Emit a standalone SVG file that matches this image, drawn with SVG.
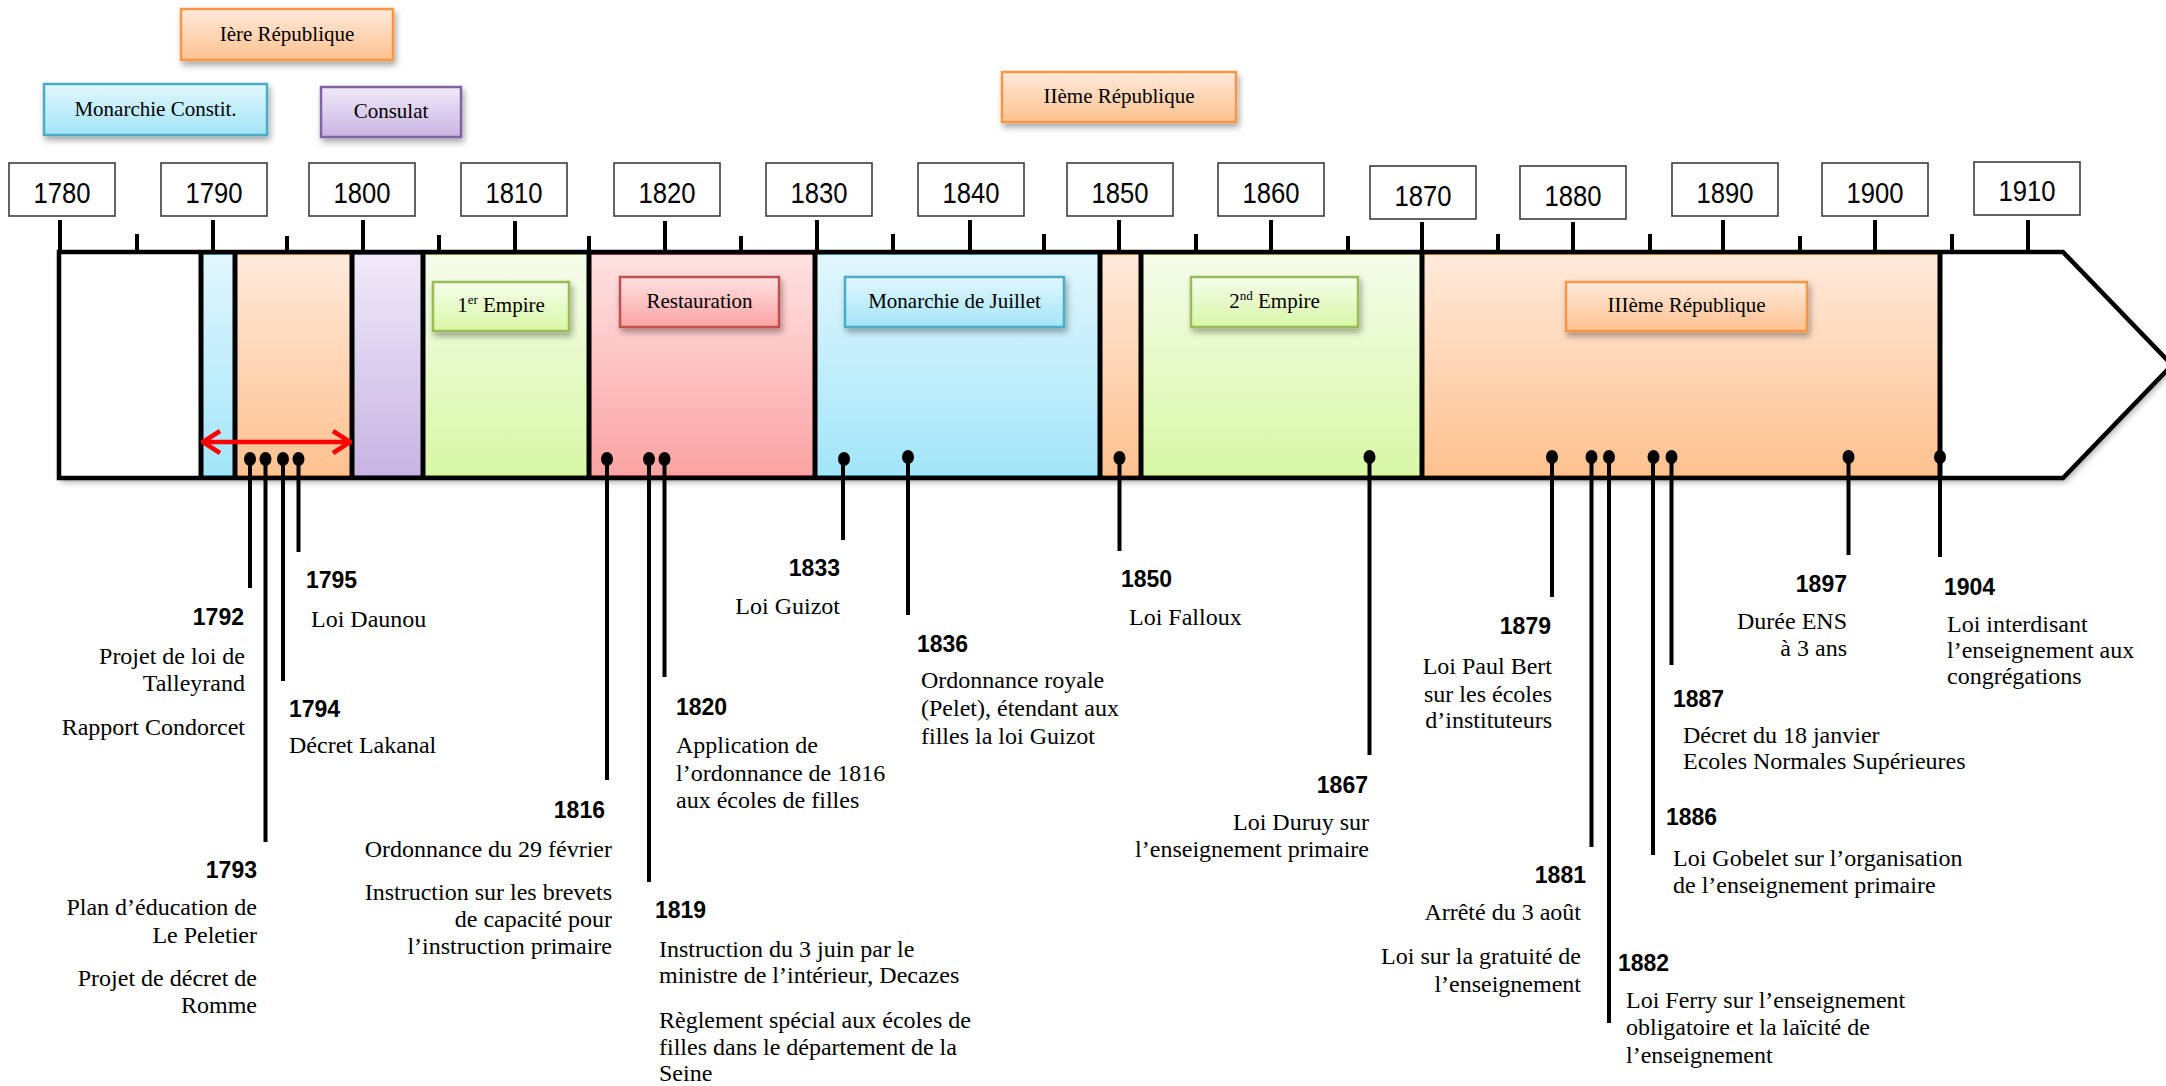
<svg xmlns="http://www.w3.org/2000/svg" width="2166" height="1086" viewBox="0 0 2166 1086">
<defs>
<style>
.yb{fill:#fff;stroke:#3c3c3c;stroke-width:1.6}
.yt{font-family:"Liberation Sans",Arial,sans-serif;font-size:29px;fill:#000;text-anchor:middle}
.pt{font-family:"Liberation Serif","Times New Roman",serif;font-size:21px;fill:#000;text-anchor:middle}
.ev{font-family:"Liberation Serif","Times New Roman",serif;font-size:24px;fill:#000}
.yr{font-family:"Liberation Sans",Arial,sans-serif;font-size:23px;font-weight:bold;fill:#000}
.r{text-anchor:end}
.tick{stroke:#000;stroke-width:4}
.div{stroke:#000;stroke-width:5}
.evl{stroke:#000;stroke-width:4}
.dot{fill:#000}
.box{filter:url(#sh);stroke-width:2.5}
.or{fill:url(#gOr);stroke:#F79646}
.bl{fill:url(#gBl);stroke:#4BACC6}
.pu{fill:url(#gPu);stroke:#8064A2}
.gr{fill:url(#gGr);stroke:#9BBB59}
.rd{fill:url(#gRd);stroke:#C0504D}
.sec{stroke-width:2}
</style>
<linearGradient id="gOr" x1="0" y1="0" x2="0" y2="1"><stop offset="0" stop-color="#FFEADB"/><stop offset="1" stop-color="#FDC18F"/></linearGradient>
<linearGradient id="gBl" x1="0" y1="0" x2="0" y2="1"><stop offset="0" stop-color="#E2F7FD"/><stop offset="1" stop-color="#A3E5F9"/></linearGradient>
<linearGradient id="gPu" x1="0" y1="0" x2="0" y2="1"><stop offset="0" stop-color="#F0EAF8"/><stop offset="1" stop-color="#C8B4E4"/></linearGradient>
<linearGradient id="gGr" x1="0" y1="0" x2="0" y2="1"><stop offset="0" stop-color="#F5FDEB"/><stop offset="1" stop-color="#D8F7A6"/></linearGradient>
<linearGradient id="gRd" x1="0" y1="0" x2="0" y2="1"><stop offset="0" stop-color="#FFE2E2"/><stop offset="1" stop-color="#FBA3A3"/></linearGradient>
<filter id="sh" x="-10%" y="-20%" width="130%" height="160%"><feDropShadow dx="2" dy="4" stdDeviation="3" flood-color="#000" flood-opacity="0.35"/></filter>
<marker id="chev" viewBox="0 0 22 26" refX="20" refY="13" markerWidth="22" markerHeight="26" markerUnits="userSpaceOnUse" orient="auto-start-reverse"><path d="M3,2 L20,13 L3,24" fill="none" stroke="#FF0000" stroke-width="4.5"/></marker>
</defs>
<rect width="2166" height="1086" fill="#fff"/>

<!-- timeline band -->
<g id="timeline">
<path d="M59,252 H2063 L2172,365 L2063,478 H59 Z" fill="#fff" filter="url(#sh)"/>
<rect class="sec bl" x="201" y="254" width="34" height="222"/>
<rect class="sec or" x="235" y="254" width="117" height="222"/>
<rect class="sec pu" x="352" y="254" width="71" height="222"/>
<rect class="sec gr" x="423" y="254" width="166" height="222"/>
<rect class="sec rd" x="589" y="254" width="226" height="222"/>
<rect class="sec bl" x="815" y="254" width="285" height="222"/>
<rect class="sec or" x="1100" y="254" width="41" height="222"/>
<rect class="sec gr" x="1141" y="254" width="281" height="222"/>
<rect class="sec or" x="1422" y="254" width="518" height="222"/>
<path d="M59,252 H2063 L2172,365 L2063,478 H59 Z" fill="none" stroke="#000" stroke-width="4.5" stroke-linejoin="miter"/>
<g class="div">
<line x1="201" y1="252" x2="201" y2="478"/><line x1="235" y1="252" x2="235" y2="478"/>
<line x1="352" y1="252" x2="352" y2="478"/><line x1="423" y1="252" x2="423" y2="478"/>
<line x1="589" y1="252" x2="589" y2="478"/><line x1="815" y1="252" x2="815" y2="478"/>
<line x1="1100" y1="252" x2="1100" y2="478"/><line x1="1141" y1="252" x2="1141" y2="478"/>
<line x1="1422" y1="252" x2="1422" y2="478"/><line x1="1940" y1="252" x2="1940" y2="478"/>
</g>
<g class="tick">
<line x1="60" y1="220" x2="60" y2="252"/><line x1="213" y1="220" x2="213" y2="252"/>
<line x1="363" y1="220" x2="363" y2="252"/><line x1="515" y1="221" x2="515" y2="252"/>
<line x1="665" y1="221" x2="665" y2="252"/><line x1="817" y1="220" x2="817" y2="252"/>
<line x1="970" y1="220" x2="970" y2="252"/><line x1="1119" y1="220" x2="1119" y2="252"/>
<line x1="1271" y1="220" x2="1271" y2="252"/><line x1="1422" y1="222" x2="1422" y2="252"/>
<line x1="1573" y1="222" x2="1573" y2="252"/><line x1="1723" y1="220" x2="1723" y2="252"/>
<line x1="1875" y1="220" x2="1875" y2="252"/><line x1="2028" y1="220" x2="2028" y2="252"/>
<line x1="137" y1="234" x2="137" y2="252"/><line x1="287" y1="236" x2="287" y2="252"/>
<line x1="439" y1="235" x2="439" y2="252"/><line x1="589" y1="236" x2="589" y2="252"/>
<line x1="741" y1="236" x2="741" y2="252"/><line x1="893" y1="234" x2="893" y2="252"/>
<line x1="1044" y1="234" x2="1044" y2="252"/><line x1="1196" y1="234" x2="1196" y2="252"/>
<line x1="1348" y1="236" x2="1348" y2="252"/><line x1="1498" y1="234" x2="1498" y2="252"/>
<line x1="1650" y1="234" x2="1650" y2="252"/><line x1="1800" y1="236" x2="1800" y2="252"/>
<line x1="1952" y1="234" x2="1952" y2="252"/>
</g>
</g>

<!-- year boxes -->
<g id="years">
<g id="y1780"><rect class="yb" x="9" y="163" width="106" height="53"/><text class="yt" x="62" y="203" textLength="57" lengthAdjust="spacingAndGlyphs">1780</text></g>
<g id="y1790"><rect class="yb" x="161" y="163" width="106" height="53"/><text class="yt" x="214" y="203" textLength="57" lengthAdjust="spacingAndGlyphs">1790</text></g>
<g id="y1800"><rect class="yb" x="309" y="163" width="106" height="53"/><text class="yt" x="362" y="203" textLength="57" lengthAdjust="spacingAndGlyphs">1800</text></g>
<g id="y1810"><rect class="yb" x="461" y="163" width="106" height="53"/><text class="yt" x="514" y="203" textLength="57" lengthAdjust="spacingAndGlyphs">1810</text></g>
<g id="y1820"><rect class="yb" x="614" y="163" width="106" height="53"/><text class="yt" x="667" y="203" textLength="57" lengthAdjust="spacingAndGlyphs">1820</text></g>
<g id="y1830"><rect class="yb" x="766" y="163" width="106" height="53"/><text class="yt" x="819" y="203" textLength="57" lengthAdjust="spacingAndGlyphs">1830</text></g>
<g id="y1840"><rect class="yb" x="918" y="163" width="106" height="53"/><text class="yt" x="971" y="203" textLength="57" lengthAdjust="spacingAndGlyphs">1840</text></g>
<g id="y1850"><rect class="yb" x="1067" y="163" width="106" height="53"/><text class="yt" x="1120" y="203" textLength="57" lengthAdjust="spacingAndGlyphs">1850</text></g>
<g id="y1860"><rect class="yb" x="1218" y="163" width="106" height="53"/><text class="yt" x="1271" y="203" textLength="57" lengthAdjust="spacingAndGlyphs">1860</text></g>
<g id="y1870"><rect class="yb" x="1370" y="166" width="106" height="53"/><text class="yt" x="1423" y="206" textLength="57" lengthAdjust="spacingAndGlyphs">1870</text></g>
<g id="y1880"><rect class="yb" x="1520" y="166" width="106" height="53"/><text class="yt" x="1573" y="206" textLength="57" lengthAdjust="spacingAndGlyphs">1880</text></g>
<g id="y1890"><rect class="yb" x="1672" y="163" width="106" height="53"/><text class="yt" x="1725" y="203" textLength="57" lengthAdjust="spacingAndGlyphs">1890</text></g>
<g id="y1900"><rect class="yb" x="1822" y="163" width="106" height="53"/><text class="yt" x="1875" y="203" textLength="57" lengthAdjust="spacingAndGlyphs">1900</text></g>
<g id="y1910"><rect class="yb" x="1974" y="162" width="106" height="53"/><text class="yt" x="2027" y="201" textLength="57" lengthAdjust="spacingAndGlyphs">1910</text></g>
</g>

<!-- period boxes -->
<g id="periods">
<g id="p-rep1"><rect class="box or" x="181" y="9" width="212" height="51"/><text class="pt" x="287" y="41">Ière République</text></g>
<g id="p-monconst"><rect class="box bl" x="44" y="84" width="223" height="51"/><text class="pt" x="155.5" y="116">Monarchie Constit.</text></g>
<g id="p-consulat"><rect class="box pu" x="321" y="87" width="140" height="50"/><text class="pt" x="391" y="118">Consulat</text></g>
<g id="p-rep2"><rect class="box or" x="1002" y="72" width="234" height="50"/><text class="pt" x="1119" y="103">IIème République</text></g>
<g id="p-emp1"><rect class="box gr" x="433" y="282" width="136" height="49"/><text class="pt" x="501" y="312">1<tspan font-size="13" dy="-8">er</tspan><tspan dy="8"> Empire</tspan></text></g>
<g id="p-resto"><rect class="box rd" x="620" y="277" width="159" height="50"/><text class="pt" x="699.5" y="308">Restauration</text></g>
<g id="p-juillet"><rect class="box bl" x="845" y="277" width="219" height="50"/><text class="pt" x="954.5" y="308">Monarchie de Juillet</text></g>
<g id="p-emp2"><rect class="box gr" x="1191" y="277" width="167" height="50"/><text class="pt" x="1274.5" y="308">2<tspan font-size="13" dy="-8">nd</tspan><tspan dy="8"> Empire</tspan></text></g>
<g id="p-rep3"><rect class="box or" x="1566" y="282" width="241" height="49"/><text class="pt" x="1686.5" y="312">IIIème République</text></g>
</g>

<!-- connectors -->
<g id="connectors">
<line x1="203" y1="442" x2="350" y2="442" stroke="#FF0000" stroke-width="4.5" marker-start="url(#chev)" marker-end="url(#chev)"/>
<g class="evl">
<line x1="250" y1="459" x2="250" y2="588"/>
<line x1="265.5" y1="459" x2="265.5" y2="842"/>
<line x1="283" y1="459" x2="283" y2="681"/>
<line x1="298.5" y1="459" x2="298.5" y2="552"/>
<line x1="607" y1="459" x2="607" y2="780"/>
<line x1="649" y1="459" x2="649" y2="882"/>
<line x1="664.5" y1="459" x2="664.5" y2="677"/>
<line x1="843" y1="459" x2="843" y2="540"/>
<line x1="908" y1="457" x2="908" y2="615"/>
<line x1="1119.5" y1="459" x2="1119.5" y2="551"/>
<line x1="1369.5" y1="457" x2="1369.5" y2="755"/>
<line x1="1552" y1="457" x2="1552" y2="597"/>
<line x1="1591.5" y1="457" x2="1591.5" y2="847"/>
<line x1="1609" y1="457" x2="1609" y2="1023"/>
<line x1="1653" y1="457" x2="1653" y2="855"/>
<line x1="1671.5" y1="457" x2="1671.5" y2="665"/>
<line x1="1848.5" y1="457" x2="1848.5" y2="555"/>
<line x1="1940" y1="457" x2="1940" y2="557"/>
</g>
<g class="dot">
<ellipse cx="250" cy="459" rx="6" ry="7"/><ellipse cx="265.5" cy="459" rx="6" ry="7"/>
<ellipse cx="283" cy="459" rx="6" ry="7"/><ellipse cx="298.5" cy="459" rx="6" ry="7"/>
<ellipse cx="607" cy="459" rx="6" ry="7"/><ellipse cx="649" cy="459" rx="6" ry="7"/>
<ellipse cx="664.5" cy="459" rx="6" ry="7"/><ellipse cx="844" cy="459" rx="6" ry="7"/>
<ellipse cx="908" cy="457" rx="6" ry="7"/><ellipse cx="1119.5" cy="458" rx="6" ry="7"/>
<ellipse cx="1369.5" cy="457" rx="6" ry="7"/><ellipse cx="1552" cy="457" rx="6" ry="7"/>
<ellipse cx="1591.5" cy="457" rx="6" ry="7"/><ellipse cx="1609" cy="457" rx="6" ry="7"/>
<ellipse cx="1653.5" cy="457" rx="6" ry="7"/><ellipse cx="1671.5" cy="457" rx="6" ry="7"/>
<ellipse cx="1848.5" cy="457" rx="6" ry="7"/><ellipse cx="1940" cy="457" rx="6" ry="7"/>
</g>
</g>

<!-- events -->
<g id="e1792"><text class="yr r" x="244" y="625">1792</text>
<text class="ev r" x="245" y="664">Projet de loi de</text><text class="ev r" x="245" y="691">Talleyrand</text>
<text class="ev r" x="245" y="735">Rapport Condorcet</text></g>
<g id="e1793"><text class="yr r" x="257" y="878">1793</text>
<text class="ev r" x="257" y="915">Plan d’éducation de</text><text class="ev r" x="257" y="943">Le Peletier</text>
<text class="ev r" x="257" y="986">Projet de décret de</text><text class="ev r" x="257" y="1013">Romme</text></g>
<g id="e1794"><text class="yr" x="289" y="717">1794</text>
<text class="ev" x="289" y="753">Décret Lakanal</text></g>
<g id="e1795"><text class="yr" x="306" y="588">1795</text>
<text class="ev" x="311" y="627">Loi Daunou</text></g>
<g id="e1816"><text class="yr r" x="605" y="818">1816</text>
<text class="ev r" x="612" y="857">Ordonnance du 29 février</text>
<text class="ev r" x="612" y="900">Instruction sur les brevets</text><text class="ev r" x="612" y="927">de capacité pour</text><text class="ev r" x="612" y="954">l’instruction primaire</text></g>
<g id="e1819"><text class="yr" x="655" y="918">1819</text>
<text class="ev" x="659" y="957">Instruction du 3 juin par le</text><text class="ev" x="659" y="983">ministre de l’intérieur, Decazes</text>
<text class="ev" x="659" y="1028">Règlement spécial aux écoles de</text><text class="ev" x="659" y="1055">filles dans le département de la</text><text class="ev" x="659" y="1081">Seine</text></g>
<g id="e1820"><text class="yr" x="676" y="715">1820</text>
<text class="ev" x="676" y="753">Application de</text><text class="ev" x="676" y="781">l’ordonnance de 1816</text><text class="ev" x="676" y="808">aux écoles de filles</text></g>
<g id="e1833"><text class="yr r" x="840" y="576">1833</text>
<text class="ev r" x="840" y="614">Loi Guizot</text></g>
<g id="e1836"><text class="yr" x="917" y="652">1836</text>
<text class="ev" x="921" y="688">Ordonnance royale</text><text class="ev" x="921" y="716">(Pelet), étendant aux</text><text class="ev" x="921" y="744">filles la loi Guizot</text></g>
<g id="e1850"><text class="yr" x="1121" y="587">1850</text>
<text class="ev" x="1129" y="625">Loi Falloux</text></g>
<g id="e1867"><text class="yr r" x="1368" y="793">1867</text>
<text class="ev r" x="1369" y="830">Loi Duruy sur</text><text class="ev r" x="1369" y="857">l’enseignement primaire</text></g>
<g id="e1879"><text class="yr r" x="1551" y="634">1879</text>
<text class="ev r" x="1552" y="674">Loi Paul Bert</text><text class="ev r" x="1552" y="702">sur les écoles</text><text class="ev r" x="1552" y="728">d’instituteurs</text></g>
<g id="e1881"><text class="yr r" x="1586" y="883">1881</text>
<text class="ev r" x="1581" y="920">Arrêté du 3 août</text>
<text class="ev r" x="1581" y="964">Loi sur la gratuité de</text><text class="ev r" x="1581" y="992">l’enseignement</text></g>
<g id="e1882"><text class="yr" x="1618" y="971">1882</text>
<text class="ev" x="1626" y="1008">Loi Ferry sur l’enseignement</text><text class="ev" x="1626" y="1035">obligatoire et la laïcité de</text><text class="ev" x="1626" y="1063">l’enseignement</text></g>
<g id="e1886"><text class="yr" x="1666" y="825">1886</text>
<text class="ev" x="1673" y="866">Loi Gobelet sur l’organisation</text><text class="ev" x="1673" y="893">de l’enseignement primaire</text></g>
<g id="e1887"><text class="yr" x="1673" y="707">1887</text>
<text class="ev" x="1683" y="743">Décret du 18 janvier</text><text class="ev" x="1683" y="769">Ecoles Normales Supérieures</text></g>
<g id="e1897"><text class="yr r" x="1847" y="592">1897</text>
<text class="ev r" x="1847" y="629">Durée ENS</text><text class="ev r" x="1847" y="656">à 3 ans</text></g>
<g id="e1904"><text class="yr" x="1944" y="595">1904</text>
<text class="ev" x="1947" y="632">Loi interdisant</text><text class="ev" x="1947" y="658">l’enseignement aux</text><text class="ev" x="1947" y="684">congrégations</text></g>
</svg>
